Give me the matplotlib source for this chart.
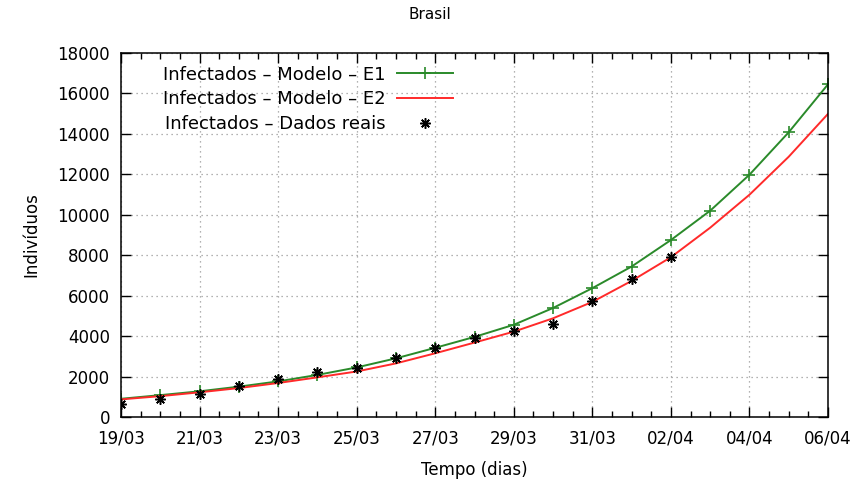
import matplotlib
matplotlib.use("Agg")
import matplotlib.pyplot as plt
from matplotlib.ticker import MultipleLocator

# dias desde 19/03
dias = list(range(19))
datas = ["19/03", "20/03", "21/03", "22/03", "23/03", "24/03", "25/03", "26/03",
         "27/03", "28/03", "29/03", "30/03", "31/03", "01/04", "02/04", "03/04",
         "04/04", "05/04", "06/04"]

# modelo E1 (curva verde)
modelo_e1 = [900, 1080, 1270, 1500, 1760, 2080, 2450, 2900, 3420, 3960, 4560,
             5390, 6370, 7440, 8750, 10200, 11980, 14080, 16450]
# modelo E2 (curva vermelha)
modelo_e2 = [870, 1030, 1220, 1430, 1680, 1960, 2250, 2650, 3150, 3680, 4220,
             4880, 5690, 6730, 7900, 9360, 10990, 12870, 14990]
# casos confirmados
dias_reais = list(range(15))
dados_reais = [621, 904, 1128, 1546, 1891, 2201, 2433, 2915, 3417, 3904, 4256,
               4579, 5717, 6836, 7910]

plt.rcParams["font.family"] = ["DejaVu Sans"]

fig = plt.figure(figsize=(8.59, 4.93), dpi=100)
ax = fig.add_axes([0.1409, 0.1542, 0.8230, 0.7383])

ax.plot(dias, modelo_e1, color="#2a8a2a", lw=1.4, marker="+", ms=8, mew=1.2,
        label="Infectados – Modelo – E1")
ax.plot(dias, modelo_e2, color="#ff2a2a", lw=1.4,
        label="Infectados – Modelo – E2")
ax.plot(dias_reais, dados_reais, ls="none", marker=(8, 2, 0), ms=7.5, mew=1.1,
        color="black", label="Infectados – Dados reais", zorder=5)

ax.set_xlim(0, 18)
ax.set_ylim(0, 18000)
ax.set_xticks(dias[::2])
ax.set_xticklabels(datas[::2])
ax.xaxis.set_minor_locator(MultipleLocator(0.5))
ax.yaxis.set_major_locator(MultipleLocator(2000))

ax.tick_params(which="both", direction="in", top=True, right=True,
               labelsize=12, color="black")
ax.tick_params(which="major", length=7, width=1)
ax.tick_params(which="minor", length=4, width=1)
ax.tick_params(axis="x", pad=9)
ax.tick_params(axis="y", pad=8)
for s in ax.spines.values():
    s.set_linewidth(1.1)

ax.grid(True, which="major", color="#999999", ls=(0, (1, 3)), lw=0.9)

ax.set_xlabel("Tempo (dias)", fontsize=12, labelpad=10)
ax.set_ylabel("Indivíduos", fontsize=12, labelpad=12)
fig.text(0.5, 0.97, "Brasil", ha="center", va="center", fontsize=11)

ax.legend(loc="upper right", bbox_to_anchor=(0.487, 1.0), frameon=False,
          markerfirst=False, fontsize=13, handlelength=3.1, handletextpad=0.6,
          labelspacing=0.38, borderpad=0.2)

fig.savefig("out.png", dpi=100)
